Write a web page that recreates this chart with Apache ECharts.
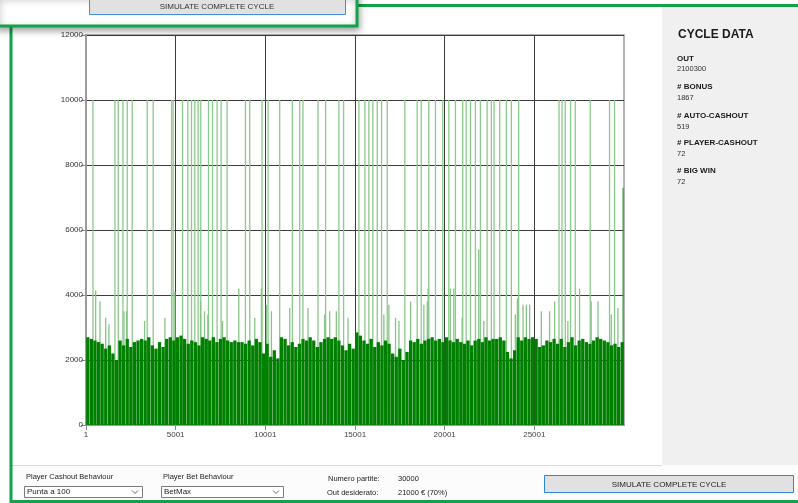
<!DOCTYPE html>
<html>
<head>
<meta charset="utf-8">
<script src="https://cdn.jsdelivr.net/npm/echarts@6.0.0/dist/echarts.min.js"></script>
<style>
html,body{margin:0;padding:0;background:#fff;}
#chart{width:798px;height:503px;}
</style>
</head>
<body>
<div id="chart"></div>
<script>
// ---------------- data ----------------
const gameCount = 30000;
const gameLabels = Array.from({length: gameCount}, (_, i) => String(i + 1));
const binSize = 200; // games per base column
const baseLevels = [
  2700,2650,2600,2550,2500,2350,2450,2200,2000,2600,
  2450,2650,2400,2550,2600,2650,2600,2700,2450,2350,
  2550,2400,2650,2700,2600,2700,2750,2650,2500,2600,
  2550,2450,2700,2650,2600,2700,2550,2650,2700,2600,
  2550,2600,2550,2550,2500,2600,2450,2650,2550,2200,
  2500,2100,2300,2050,2700,2650,2450,2550,2400,2500,
  2650,2600,2700,2600,2400,2550,2650,2700,2650,2700,
  2600,2450,2300,2500,2350,2850,2750,2600,2500,2650,
  2400,2550,2450,2600,2500,2200,2100,2350,2000,2250,
  2600,2550,2650,2500,2600,2650,2700,2600,2650,2550,
  2700,2600,2550,2650,2550,2500,2600,2450,2600,2650,
  2550,2700,2600,2650,2650,2700,2600,2250,2050,2300,
  2700,2600,2700,2650,2700,2650,2400,2450,2600,2550,
  2650,2500,2650,2400,2550,2700,2450,2600,2650,2550,
  2500,2600,2700,2650,2600,2550,2450,2500,2400,2550
];
const bigWinValue = 10000;
const bigWinGames = [
  390,1615,1798,2060,2300,2578,3413,3747,4772,4861,
  5384,5679,5885,6069,6253,6403,6832,7055,7311,7534,
  7867,8892,9132,9816,10151,10802,11509,11916,12099,12935,
  13363,14104,14365,15218,15551,15774,15997,16242,16481,16799,
  17779,18469,18692,19115,19488,19894,20229,20602,21008,21197,
  21437,21715,21994,22367,22606,22756,23068,23441,23720,24126,
  26376,26543,26726,27022,27283,28118,29194,29472
];
const tipGames  = [540,780,1097,1281,2116,2266,3268,4400,4956,6387,6610,6793,
  7610,8519,9410,9783,10062,10340,11360,12380,13310,13590,13960,14610,
  16610,16890,17260,17450,18100,18840,19030,19080,20320,20510,20975,21900,22180,
  23940,24055,24370,24555,24740,25390,25850,26130,26870,27520,28170,28550,29290,29660];
const tipValues = [4150,3800,3300,3100,3500,3500,3200,3300,4100,3800,3500,3400,
  3200,4200,3300,4200,3700,3500,3600,3600,3400,3500,3500,3300,
  3400,3700,3300,3200,3800,3700,3800,4200,4200,4200,3300,5400,3200,
  3400,3900,3700,3700,3700,3500,3500,3800,3200,4200,3800,3800,3400,3600];
const lastGame = 29950;
const lastValue = 7300;

const cycleLabels = ['OUT', '# BONUS', '# AUTO-CASHOUT', '# PLAYER-CASHOUT', '# BIG WIN'];
const cycleValues = ['2100300', '1867', '519', '72', '72'];

// ---------------- chart ----------------
const FONT = 'Liberation Sans, Arial, sans-serif';
const GREEN = '#12a34a';

const spikeData = bigWinGames.map(g => ({value: [g - 1, bigWinValue], itemStyle: {color: '#8cc98c'}}))
  .concat(tipGames.map((g, i) => ({value: [g - 1, tipValues[i]], itemStyle: {color: '#86c586'}})))
  .concat([{value: [lastGame - 1, lastValue], itemStyle: {color: '#3f9c3f'}}]);
const baseData = baseLevels.map((v, i) => [i * binSize + binSize / 2, v]);

function xAxisDef(show) {
  return {
    type: 'category', data: gameLabels, boundaryGap: false, show: show, gridIndex: 0,
    axisLine: {show: show, onZero: false, lineStyle: {color: '#9c9c9c', width: 2}},
    axisTick: {show: show, interval: 4999, length: 5, lineStyle: {color: '#8a8a8a'}},
    axisLabel: {show: show, interval: 4999, fontSize: 8, color: '#444', margin: 6, fontFamily: FONT, hideOverlap: false},
    splitLine: {show: show, interval: 4999, lineStyle: {color: '#3c3c3c', width: 1}}
  };
}

const graphics = [];
graphics.push({type: 'rect', z: 50, silent: true, shape: {x: 11, y: 5.5, width: 800, height: 496},
  style: {fill: 'none', stroke: GREEN, lineWidth: 3}});
graphics.push({type: 'rect', z: -10, silent: true, shape: {x: 662, y: 7, width: 136, height: 458}, style: {fill: '#f0f0f0'}});
graphics.push({type: 'rect', z: -10, silent: true, shape: {x: 12, y: 465, width: 786, height: 35}, style: {fill: '#fcfcfc'}});
graphics.push({type: 'line', z: -9, silent: true, shape: {x1: 12, y1: 465.5, x2: 662, y2: 465.5}, style: {stroke: '#dadada', lineWidth: 1}});
graphics.push({type: 'text', z: 60, style: {text: 'CYCLE DATA', x: 678, y: 35, font: 'bold 12px ' + FONT, fill: '#1a1a1a', verticalAlign: 'middle'}});
const labY = [59, 87, 116, 143, 171];
const valY = [69, 98, 127, 154, 182];
cycleLabels.forEach((t, i) => {
  graphics.push({type: 'text', z: 60, style: {text: t, x: 677, y: labY[i], font: 'bold 8px ' + FONT, fill: '#1a1a1a', verticalAlign: 'middle'}});
  graphics.push({type: 'text', z: 60, style: {text: cycleValues[i], x: 677, y: valY[i], font: '7.5px ' + FONT, fill: '#333', verticalAlign: 'middle'}});
});
function txt(t, x, y, size, align) {
  graphics.push({type: 'text', z: 60, style: {text: t, x: x, y: y, font: size + 'px ' + FONT, fill: '#222', verticalAlign: 'middle', align: align || 'left'}});
}
function combo(x, w, t) {
  graphics.push({type: 'rect', z: 55, shape: {x: x + 0.5, y: 486.5, width: w, height: 11}, style: {fill: '#fff', stroke: '#7a7a7a', lineWidth: 1}});
  txt(t, x + 3, 492, 8);
  const cx = x + w - 7;
  graphics.push({type: 'polyline', z: 60, shape: {points: [[cx - 3, 490.5], [cx, 493.5], [cx + 3, 490.5]]}, style: {stroke: '#666', lineWidth: 1, fill: 'none'}});
}
txt('Player Cashout Behaviour', 26, 476.5, 7.5);
txt('Player Bet Behaviour', 163, 476.5, 7.5);
combo(24, 118, 'Punta a 100');
combo(161, 122, 'BetMax');
txt('Numero partite:', 328, 479, 7.5);
txt('30000', 398, 479, 7.5);
txt('Out desiderato:', 327, 493, 7.5);
txt('21000 \u20ac (70%)', 398, 493, 7.5);
graphics.push({type: 'rect', z: 55, shape: {x: 544.5, y: 475.5, width: 249, height: 17}, style: {fill: '#e1e1e1', stroke: '#2f86d6', lineWidth: 1}});
txt('SIMULATE COMPLETE CYCLE', 669, 484.5, 8, 'center');
graphics.push({type: 'rect', z: 200, shape: {x: -3, y: -5, width: 360, height: 31},
  style: {fill: '#fff', stroke: GREEN, lineWidth: 3, shadowBlur: 7, shadowOffsetY: 3, shadowOffsetX: 1, shadowColor: 'rgba(0,0,0,0.35)'}});
graphics.push({type: 'rect', z: 201, shape: {x: 89.5, y: -2, width: 256, height: 16.5}, style: {fill: '#e1e1e1', stroke: '#3c8fd8', lineWidth: 1}});
graphics.push({type: 'text', z: 202, style: {text: 'SIMULATE COMPLETE CYCLE', x: 217, y: 6.5, font: '8px ' + FONT, fill: '#333', align: 'center', verticalAlign: 'middle'}});

const option = {
  animation: false,
  backgroundColor: '#ffffff',
  grid: {left: 86, right: 174, top: 35, bottom: 78, show: true, backgroundColor: '#fff', borderColor: '#9c9c9c', borderWidth: 1.5},
  xAxis: [xAxisDef(true), xAxisDef(false)],
  yAxis: {
    type: 'value', min: 0, max: 12000, interval: 2000,
    axisLine: {show: true, lineStyle: {color: '#9c9c9c', width: 2}},
    axisTick: {show: true, length: 5, lineStyle: {color: '#8a8a8a'}},
    axisLabel: {fontSize: 8, color: '#333', margin: 3, fontFamily: FONT, formatter: v => String(v)},
    splitLine: {show: true, lineStyle: {color: '#3c3c3c', width: 1}}
  },
  series: [
    {type: 'bar', xAxisIndex: 1, data: spikeData, barWidth: 1.3, z: 2, silent: true},
    {type: 'bar', xAxisIndex: 0, data: baseData, barWidth: 3.3, itemStyle: {color: '#008000'}, z: 3, silent: true}
  ],
  graphic: graphics
};
const chart = echarts.init(document.getElementById('chart'), null, {renderer: 'canvas'});
chart.setOption(option);
</script>
</body>
</html>
